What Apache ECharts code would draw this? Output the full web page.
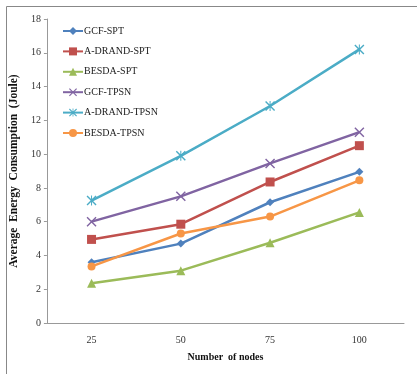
<!DOCTYPE html>
<html><head><meta charset="utf-8">
<script src="https://cdn.jsdelivr.net/npm/echarts@6/dist/echarts.min.js"></script>
<style>html,body{margin:0;padding:0;background:#fff}#c{width:417px;height:374px}</style>
</head><body><div id="c"></div>
<script>
const categories = ['25','50','75','100'];
const seriesNames = ['GCF-SPT','A-DRAND-SPT','BESDA-SPT','GCF-TPSN','A-DRAND-TPSN','BESDA-TPSN'];
const gcfSpt = [3.6, 4.7, 7.15, 8.95];
const adrandSpt = [4.95, 5.85, 8.35, 10.5];
const besdaSpt = [2.35, 3.1, 4.75, 6.55];
const gcfTpsn = [6.0, 7.5, 9.45, 11.3];
const adrandTpsn = [7.25, 9.9, 12.85, 16.2];
const besdaTpsn = [3.35, 5.3, 6.3, 8.45];
const yTicks = {min:0, max:18, interval:2};

const colors = ['#4F81BD','#C0504D','#9BBB59','#8064A2','#4BACC6','#F79646'];
const X_PATH = 'path://M0,1 L1,0 L5,4 L9,0 L10,1 L6,5 L10,9 L9,10 L5,6 L1,10 L0,9 L4,5 Z';
const AST_PATH = 'path://M0,1 L1,0 L4.5,3.5 L4.5,0 L5.5,0 L5.5,3.5 L9,0 L10,1 L6,5 L10,9 L9,10 L5.5,6.5 L5.5,10 L4.5,10 L4.5,6.5 L1,10 L0,9 L4,5 Z';
const symbols = ['diamond','rect','triangle',X_PATH,AST_PATH,'circle'];
const sizes = [8,9,9,10,10,8];
const data = [gcfSpt, adrandSpt, besdaSpt, gcfTpsn, adrandTpsn, besdaTpsn];

const chart = echarts.init(document.getElementById('c'), null, {renderer:'canvas'});
const font = '"Liberation Serif", "Times New Roman", serif';
chart.setOption({
  animation:false,
  color: colors,
  textStyle:{fontFamily:font},
  graphic:[{type:'rect', shape:{x:6.5,y:6.5,width:420,height:380}, style:{fill:'none', stroke:'#888', lineWidth:1}, silent:true}],
  grid:{left:45, right:13, top:19, bottom:51},
  legend:{
    orient:'vertical', left:57, top:21, itemWidth:20, itemHeight:10, itemGap:10.4,
    textStyle:{fontFamily:font, fontSize:10, color:'#222', padding:[0,0,0,-4]},
    data: seriesNames
  },
  xAxis:{
    type:'category', data:categories, boundaryGap:true,
    name:'Number  of nodes', nameLocation:'middle', nameGap:29,
    nameTextStyle:{fontFamily:font, fontWeight:'bold', fontSize:10, color:'#111'},
    axisLine:{lineStyle:{color:'#999'}}, axisTick:{show:false},
    axisLabel:{fontFamily:font, fontSize:10, color:'#333', margin:12}
  },
  yAxis:{
    type:'value', min:yTicks.min, max:yTicks.max, interval:yTicks.interval,
    name:'Average  Energy  Consumption  (Joule)', nameLocation:'middle', nameGap:20,
    nameTextStyle:{fontFamily:font, fontWeight:'bold', fontSize:11.5, color:'#111'},
    axisLine:{show:true, lineStyle:{color:'#999'}},
    axisTick:{show:true, length:3, lineStyle:{color:'#999'}},
    splitLine:{show:false},
    axisLabel:{fontFamily:font, fontSize:10, color:'#333', margin:6}
  },
  series: seriesNames.map((n,i)=>({
    name:n, type:'line', data:data[i], symbol:symbols[i], symbolSize:sizes[i],
    lineStyle:{width:2.5, color:colors[i]}, itemStyle:{color:colors[i]}
  }))
});
</script></body></html>
